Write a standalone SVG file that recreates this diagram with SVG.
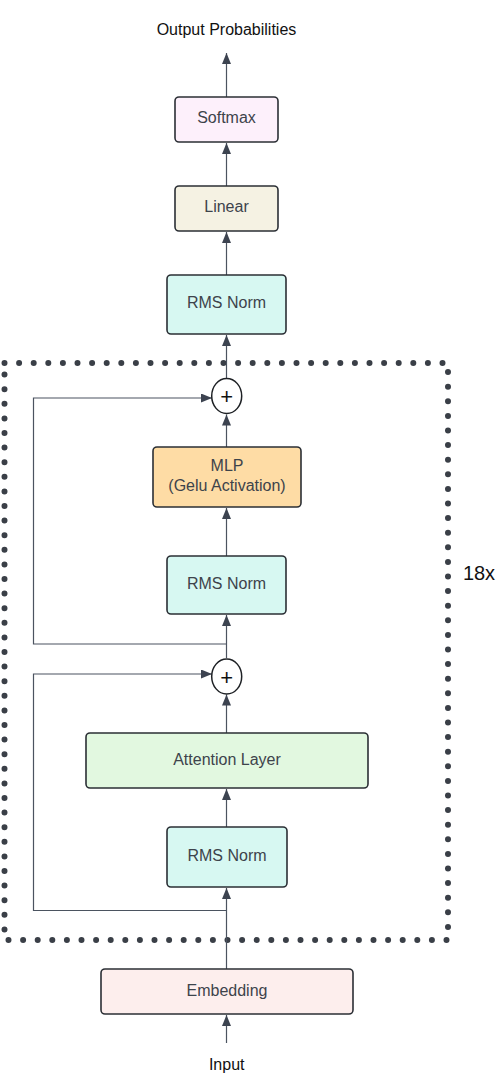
<svg xmlns="http://www.w3.org/2000/svg" width="498" height="1074" viewBox="0 0 498 1074">
<style>
.box{stroke:#2b2f35;stroke-width:1.6}
.lbl{font-family:"Liberation Sans",Arial,sans-serif;font-size:16px;fill:#3d434b;text-anchor:middle}
.plain{font-family:"Liberation Sans",Arial,sans-serif;fill:#111;text-anchor:middle}
.wire{fill:none;stroke:#4b5360;stroke-width:1.2}
.plus{fill:#fff;stroke:#1e2125;stroke-width:1.5}
</style>
<defs>
<marker id="ah" markerUnits="userSpaceOnUse" markerWidth="12" markerHeight="10" refX="11" refY="4.5" orient="auto">
<path d="M0,0 L11,4.5 L0,9 z" fill="#3c4350"/>
</marker>
</defs>
<rect width="498" height="1074" fill="#fff"/>
<g id="repeat-block">
<rect x="4.5" y="363" width="443.5" height="577" fill="none" stroke="#3a3f47" stroke-width="6" stroke-linecap="round" stroke-dasharray="0 14.6"/>
<text class="plain" x="479" y="580" font-size="20">18x</text>
</g>
<g id="connectors">
<line class="wire" x1="226.5" y1="1043" x2="226.5" y2="1015" marker-end="url(#ah)"/>
<line class="wire" x1="226.5" y1="969" x2="226.5" y2="888" marker-end="url(#ah)"/>
<polyline class="wire" points="226.5,910.5 33.5,910.5 33.5,674 212,674" marker-end="url(#ah)"/>
<line class="wire" x1="226.5" y1="827" x2="226.5" y2="789" marker-end="url(#ah)"/>
<line class="wire" x1="226.5" y1="733" x2="226.5" y2="694.5" marker-end="url(#ah)"/>
<line class="wire" x1="226.5" y1="658" x2="226.5" y2="615" marker-end="url(#ah)"/>
<polyline class="wire" points="226.5,644 33.5,644 33.5,398 212,398" marker-end="url(#ah)"/>
<line class="wire" x1="226.5" y1="556" x2="226.5" y2="508" marker-end="url(#ah)"/>
<line class="wire" x1="226.5" y1="447" x2="226.5" y2="414.5" marker-end="url(#ah)"/>
<line class="wire" x1="226.5" y1="378" x2="226.5" y2="335" marker-end="url(#ah)"/>
<line class="wire" x1="226.5" y1="275" x2="226.5" y2="232" marker-end="url(#ah)"/>
<line class="wire" x1="226.5" y1="186" x2="226.5" y2="143" marker-end="url(#ah)"/>
<line class="wire" x1="226.5" y1="97" x2="226.5" y2="53" marker-end="url(#ah)"/>
</g>
<g id="output-label"><text class="plain" x="226.5" y="35" font-size="16">Output Probabilities</text></g>
<g id="softmax"><rect class="box" x="175" y="97" width="103" height="45" rx="4" fill="#fdf0fb"/><text class="lbl" x="226.5" y="123">Softmax</text></g>
<g id="linear"><rect class="box" x="175" y="186" width="103" height="45" rx="4" fill="#f5f2e3"/><text class="lbl" x="226.5" y="212">Linear</text></g>
<g id="rms-norm-final"><rect class="box" x="167" y="275" width="119" height="59" rx="4" fill="#d7f8f2"/><text class="lbl" x="226.5" y="307.5">RMS Norm</text></g>
<g id="add-2"><ellipse class="plus" cx="226.7" cy="396" rx="15" ry="17.5"/><text class="plain" x="226.7" y="404" font-size="22">+</text></g>
<g id="mlp"><rect class="box" x="153" y="447" width="148" height="60" rx="4" fill="#fedca5"/><text class="lbl" x="227" y="471">MLP</text><text class="lbl" x="227" y="490.5">(Gelu Activation)</text></g>
<g id="rms-norm-2"><rect class="box" x="167" y="556" width="119" height="58" rx="4" fill="#d7f8f2"/><text class="lbl" x="226.5" y="588.5">RMS Norm</text></g>
<g id="add-1"><ellipse class="plus" cx="226.7" cy="676.5" rx="15" ry="17.5"/><text class="plain" x="226.7" y="684.5" font-size="22">+</text></g>
<g id="attention"><rect class="box" x="86" y="733" width="282" height="55" rx="4" fill="#e2f8e0"/><text class="lbl" x="227" y="764.5">Attention Layer</text></g>
<g id="rms-norm-1"><rect class="box" x="167" y="827" width="120" height="60" rx="4" fill="#d7f8f2"/><text class="lbl" x="227" y="860.5">RMS Norm</text></g>
<g id="embedding"><rect class="box" x="101" y="969" width="252" height="45" rx="4" fill="#fdeeed"/><text class="lbl" x="227" y="995.5">Embedding</text></g>
<g id="input-label"><text class="plain" x="226.7" y="1070" font-size="16">Input</text></g>
</svg>
